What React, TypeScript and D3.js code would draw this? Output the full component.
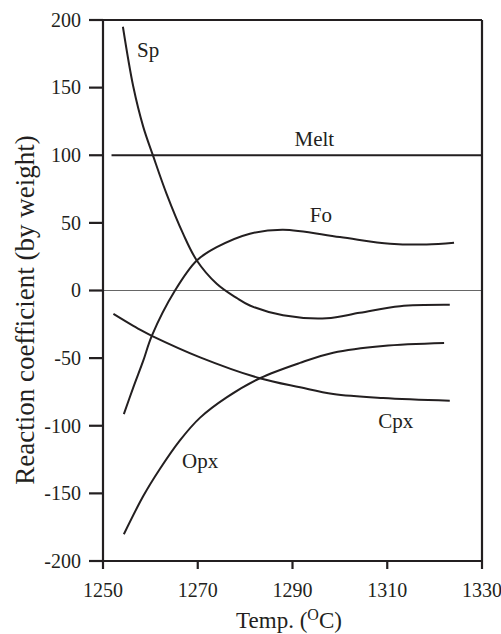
import React from "react";
import * as d3 from "d3";

const W = 501;
const H = 634;

const xTicks = [1250, 1270, 1290, 1310, 1330];
const yTicks = [200, 150, 100, 50, 0, -50, -100, -150, -200];

const spT = [1254.2, 1256.4, 1258.5, 1260.6, 1263.4, 1266.9, 1269.8, 1274, 1278.2, 1281, 1288, 1297.2, 1304.2, 1312.7, 1323.2];
const spV = [195, 150.6, 121, 99.3, 71.6, 42, 22.2, 5, -5.5, -11.1, -18.3, -20.5, -16.5, -11.6, -10.6];

const foT = [1254.4, 1256.4, 1258.5, 1260.3, 1265.2, 1269.8, 1274, 1281, 1288, 1300, 1310.6, 1318.3, 1324.1];
const foV = [-91.4, -71.6, -51.9, -33.5, 0, 22.2, 32, 42, 44.9, 39.5, 34.6, 34, 35.3];

const cpxT = [1252.2, 1257.8, 1260.3, 1270.5, 1283.1, 1291.6, 1298.6, 1309.1, 1323.2];
const cpxV = [-17.3, -29, -33.5, -49.4, -64.9, -71.6, -76.5, -79.5, -81.5];

const opxT = [1254.4, 1258.5, 1262, 1266.2, 1270.5, 1276.1, 1283.1, 1291.6, 1298.6, 1309.1, 1322];
const opxV = [-180.2, -152, -132, -111, -94, -79, -64.9, -53.5, -46, -41, -38.8];

const meltT = [1251.8, 1330];
const meltV = [100, 100];

const labels = [
  { text: "Sp", t: 1257.2, v: 173, anchor: "start" },
  { text: "Melt", t: 1294.6, v: 107, anchor: "middle" },
  { text: "Fo", t: 1296, v: 50.6, anchor: "middle" },
  { text: "Opx", t: 1270.5, v: -131, anchor: "middle" },
  { text: "Cpx", t: 1311.8, v: -101.5, anchor: "middle" },
];

const FONT = "Liberation Serif";

export default function App() {
  const x = d3.scaleLinear().domain([1250, 1330]).range([103, 482]);
  const y = d3.scaleLinear().domain([-200, 200]).range([561, 20]);
  const line = d3
    .line<[number, number]>()
    .x((d) => x(d[0]))
    .y((d) => y(d[1]))
    .curve(d3.curveCatmullRom.alpha(0.5));
  const series = [
    [spT, spV],
    [foT, foV],
    [cpxT, cpxV],
    [opxT, opxV],
  ];
  const ink = "#231f20";
  return (
    <svg
      width={W}
      height={H}
      style={{ position: "absolute", left: 0, top: 0, background: "#fff" }}
    >
      <line x1={x(1250)} x2={x(1330)} y1={y(0)} y2={y(0)} stroke="#666" strokeWidth={1.2} />
      <path d={line(meltT.map((t, i) => [t, meltV[i]]) as any) || ""} fill="none" stroke={ink} strokeWidth={2} />
      {series.map(([ts, vs], k) => (
        <path
          key={k}
          d={line(ts.map((t, i) => [t, vs[i]]) as any) || ""}
          fill="none"
          stroke={ink}
          strokeWidth={2}
        />
      ))}
      <line x1={x(1250)} x2={x(1250)} y1={y(200)} y2={y(-200)} stroke={ink} strokeWidth={2.2} />
      <line x1={x(1250)} x2={x(1330)} y1={y(-200)} y2={y(-200)} stroke={ink} strokeWidth={2.2} />
      <line x1={x(1250)} x2={x(1330)} y1={y(200)} y2={y(200)} stroke={ink} strokeWidth={2.2} />
      <line x1={x(1330)} x2={x(1330)} y1={y(200)} y2={y(-200)} stroke={ink} strokeWidth={2.2} />
      {yTicks.map((t) => (
        <g key={"y" + t}>
          <line x1={x(1250) - 14} x2={x(1250)} y1={y(t)} y2={y(t)} stroke={ink} strokeWidth={2.2} />
          <text x={81} y={y(t)} dy="0.34em" textAnchor="end" fontSize={20} fontFamily={FONT} fill={ink}>
            {t < 0 ? "-" + Math.abs(t) : String(t)}
          </text>
        </g>
      ))}
      {xTicks.map((t) => (
        <g key={"x" + t}>
          <line x1={x(t)} x2={x(t)} y1={y(-200)} y2={y(-200) + 8} stroke={ink} strokeWidth={2.2} />
          <text x={x(t)} y={597} textAnchor="middle" fontSize={20} fontFamily={FONT} fill={ink}>
            {String(t)}
          </text>
        </g>
      ))}
      {labels.map((l) => (
        <text key={l.text} x={x(l.t)} y={y(l.v)} textAnchor={l.anchor as any} fontSize={21} fontFamily={FONT} fill={ink}>
          {l.text}
        </text>
      ))}
      <text x={289} y={628} textAnchor="middle" fontSize={23} fontFamily={FONT} fill={ink}>
        Temp. (<tspan dy={-8} fontSize={16}>O</tspan>
        <tspan dy={8}>C)</tspan>
      </text>
      <text
        transform={`translate(34, ${310}) rotate(-90)`}
        textAnchor="middle"
        fontSize={27}
        fontFamily={FONT}
        fill={ink}
      >
        Reaction coefficient (by weight)
      </text>
    </svg>
  );
}
